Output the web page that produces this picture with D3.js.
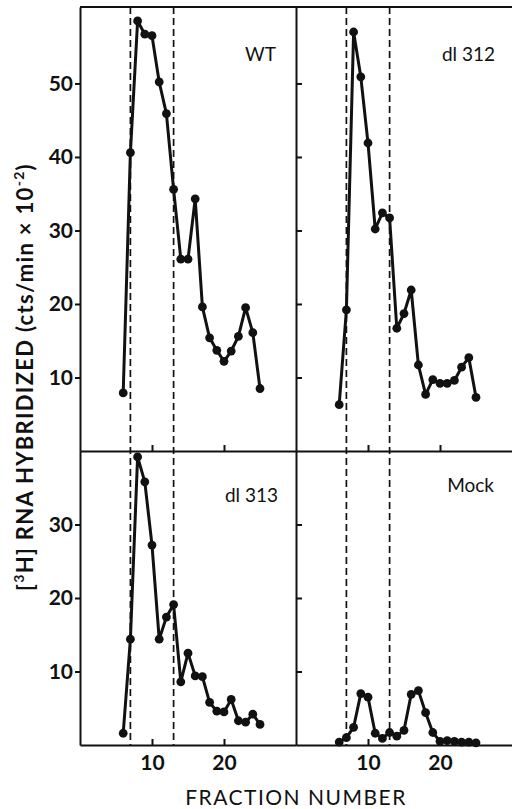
<!DOCTYPE html>
<html>
<head>
<meta charset="utf-8">
<script src="https://cdn.jsdelivr.net/npm/d3@7"></script>
<style>
  body { margin: 0; background: #fff; }
  svg { display: block; }
</style>
</head>
<body>
<div id="chart"></div>
<script>
// fraction numbers and counts (cts/min x 10^-2)
var fractions = [6, 7, 8, 9, 10, 11, 12, 13, 14, 15, 16, 17, 18, 19, 20, 21, 22, 23, 24, 25];
var wt    = [7.9, 40.6, 58.5, 56.7, 56.5, 50.2, 45.9, 35.6, 26.1, 26.1, 34.3, 19.6, 15.4, 13.7, 12.2, 13.6, 15.6, 19.5, 16.1, 8.5];
var dl312 = [6.3, 19.2, 57.0, 50.9, 41.9, 30.2, 32.4, 31.7, 16.7, 18.7, 21.9, 11.7, 7.7, 9.7, 9.2, 9.2, 9.6, 11.4, 12.7, 7.3];
var dl313 = [1.6, 14.4, 39.2, 35.8, 27.2, 14.4, 17.4, 19.1, 8.6, 12.5, 9.4, 9.3, 5.8, 4.6, 4.5, 6.2, 3.3, 3.1, 4.2, 2.8];
var mock  = [0.4, 1.0, 2.4, 7.0, 6.5, 1.6, 0.9, 1.7, 1.2, 2.0, 6.9, 7.4, 4.4, 1.7, 0.5, 0.6, 0.5, 0.4, 0.4, 0.3];

var topTicks = [10, 20, 30, 40, 50];
var bottomTicks = [10, 20, 30];
var xTicks = [10, 20];
var cutLines = [7, 13];

var width = 512, height = 809;
var font = "Lato, 'DejaVu Sans', sans-serif";

var svg = d3.select("#chart").append("svg")
    .attr("width", width)
    .attr("height", height);

// two columns share the same fraction scale, rows have their own counts scale
var xLeft = d3.scaleLinear().domain([0, 30]).range([80, 296]);
var xRight = d3.scaleLinear().domain([0, 30]).range([296, 512]);
var yTop = d3.scaleLinear().domain([0, 60.4]).range([451, 7]);
var yBottom = d3.scaleLinear().domain([0, 40]).range([745, 451]);

var panels = [
    { name: "WT", values: wt, x: xLeft, y: yTop, lx: 276, ly: 61 },
    { name: "dl 312", values: dl312, x: xRight, y: yTop, lx: 495, ly: 61 },
    { name: "dl 313", values: dl313, x: xLeft, y: yBottom, lx: 278, ly: 502 },
    { name: "Mock", values: mock, x: xRight, y: yBottom, lx: 494, ly: 492 }
];

function styleAxis(g) {
    g.selectAll("path, line").attr("stroke", "#111").attr("stroke-width", 2);
    g.selectAll("text")
        .attr("fill", "#111")
        .style("font-family", font)
        .style("font-weight", 700)
        .style("font-size", "21px");
}

// top border
svg.append("line")
    .attr("x1", 80).attr("x2", 512)
    .attr("y1", 7).attr("y2", 7)
    .attr("stroke", "#111").attr("stroke-width", 2);

// left axes with labels
svg.append("g")
    .attr("transform", "translate(80,0)")
    .call(d3.axisLeft(yTop).tickValues(topTicks).tickSizeInner(5).tickSizeOuter(0).tickPadding(2))
    .call(styleAxis);
svg.append("g")
    .attr("transform", "translate(80,0)")
    .call(d3.axisLeft(yBottom).tickValues(bottomTicks).tickSizeInner(5).tickSizeOuter(0).tickPadding(2))
    .call(styleAxis);

// middle vertical line, ticks into the right column
svg.append("g")
    .attr("transform", "translate(296,0)")
    .call(d3.axisRight(yTop).tickValues(topTicks).tickSizeInner(6).tickSizeOuter(0).tickFormat(""))
    .call(styleAxis);
svg.append("g")
    .attr("transform", "translate(296,0)")
    .call(d3.axisRight(yBottom).tickValues(bottomTicks).tickSizeInner(6).tickSizeOuter(0).tickFormat(""))
    .call(styleAxis);

// fraction axes: ticks point up, labels only on the bottom row
[xLeft, xRight].forEach(function (xs) {
    svg.append("g")
        .attr("transform", "translate(0,451)")
        .call(d3.axisBottom(xs).tickValues(xTicks).tickSizeInner(-6).tickSizeOuter(0).tickFormat(""))
        .call(styleAxis);
    svg.append("g")
        .attr("transform", "translate(0,745)")
        .call(d3.axisBottom(xs).tickValues(xTicks).tickSizeInner(-6).tickSizeOuter(0).tickPadding(10))
        .call(styleAxis);
});

// dashed cut lines through both rows
[xLeft, xRight].forEach(function (xs) {
    svg.selectAll(null)
        .data(cutLines)
        .enter()
        .append("line")
        .attr("x1", function (d) { return xs(d); })
        .attr("x2", function (d) { return xs(d); })
        .attr("y1", 7).attr("y2", 745)
        .attr("stroke", "#111")
        .attr("stroke-width", 1.7)
        .attr("stroke-dasharray", "7,4");
});

panels.forEach(function (p) {
    var pts = fractions.map(function (f, i) { return [f, p.values[i]]; });
    var line = d3.line()
        .x(function (d) { return p.x(d[0]); })
        .y(function (d) { return p.y(d[1]); });

    svg.append("path")
        .datum(pts)
        .attr("d", line)
        .attr("fill", "none")
        .attr("stroke", "#111")
        .attr("stroke-width", 3)
        .attr("stroke-linejoin", "round");

    svg.selectAll(null)
        .data(pts)
        .enter()
        .append("circle")
        .attr("cx", function (d) { return p.x(d[0]); })
        .attr("cy", function (d) { return p.y(d[1]); })
        .attr("r", 4.4)
        .attr("fill", "#111");

    svg.append("text")
        .attr("x", p.lx)
        .attr("y", p.ly)
        .attr("text-anchor", "end")
        .style("font-family", font)
        .style("font-size", "19px")
        .style("font-weight", 400)
        .attr("fill", "#111")
        .text(p.name);
});

// axis titles
svg.append("text")
    .attr("x", 296)
    .attr("y", 805)
    .attr("text-anchor", "middle")
    .style("font-family", font)
    .style("font-size", "21px")
    .style("font-weight", 400)
    .style("letter-spacing", "1.5px")
    .attr("fill", "#111")
    .text("FRACTION NUMBER");

var ylab = svg.append("text")
    .attr("transform", "translate(33,377) rotate(-90)")
    .attr("text-anchor", "middle")
    .style("font-family", font)
    .style("font-size", "22px")
    .style("font-weight", 700)
    .style("letter-spacing", "1.3px")
    .attr("fill", "#111");
ylab.append("tspan").text("[");
ylab.append("tspan").attr("dy", -9).style("font-size", "14px").text("3");
ylab.append("tspan").attr("dy", 9).text("H] RNA HYBRIDIZED  (cts/min × 10");
ylab.append("tspan").attr("dy", -9).style("font-size", "14px").text("-2");
ylab.append("tspan").attr("dy", 9).text(")");
</script>
</body>
</html>
